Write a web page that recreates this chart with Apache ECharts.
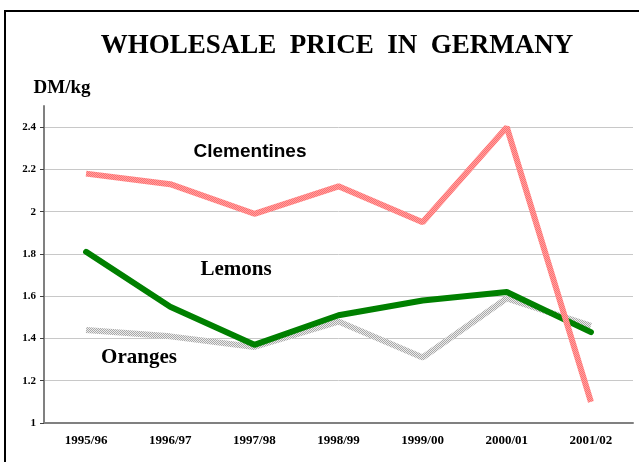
<!DOCTYPE html>
<html>
<head>
<meta charset="UTF-8">
<title>Wholesale price in Germany</title>
<style>
html, body { margin: 0; padding: 0; background: #fff; }
#main { width: 639px; height: 462px; }
</style>
</head>
<body>
<div id="main"></div>
<script src="https://cdn.jsdelivr.net/npm/echarts@6/dist/echarts.min.js"></script>
<script>
var seasons = ['1995/96', '1996/97', '1997/98', '1998/99', '1999/00', '2000/01', '2001/02'];
var clementines = [2.18, 2.13, 1.99, 2.12, 1.95, 2.40, 1.10];
var lemons = [1.81, 1.55, 1.37, 1.51, 1.58, 1.62, 1.43];
var oranges = [1.44, 1.41, 1.36, 1.48, 1.31, 1.59, 1.46];
var yTicks = [1, 1.2, 1.4, 1.6, 1.8, 2, 2.2, 2.4];

// small checkered pattern so the lines look hatched like the original
function hatch(c1, c2) {
	var cv = document.createElement('canvas');
	cv.width = 2; cv.height = 2;
	var ctx = cv.getContext('2d');
	ctx.fillStyle = c1; ctx.fillRect(0, 0, 2, 2);
	ctx.fillStyle = c2; ctx.fillRect(0, 0, 1, 1); ctx.fillRect(1, 1, 1, 1);
	return { image: cv, repeat: 'repeat' };
}

var serif = '"Liberation Serif", "DejaVu Serif", serif';
var sans = '"Liberation Sans", Arial, sans-serif';

function label(txt, x, y, font) {
	return {
		type: 'text', x: x, y: y, silent: true,
		style: { text: txt, font: font, fill: '#000', textAlign: 'center', textVerticalAlign: 'middle' }
	};
}

var myChart = echarts.init(document.getElementById('main'));
var option = {
	animation: false,
	backgroundColor: '#fff',
	grid: { left: 44, right: 6, top: 106, bottom: 39 },
	xAxis: {
		type: 'category',
		data: seasons,
		boundaryGap: true,
		axisLine: { lineStyle: { color: '#808080', width: 2 } },
		axisTick: { length: 4, lineStyle: { color: '#404040' } },
		axisLabel: { color: '#000', fontFamily: serif, fontWeight: 'bold', fontSize: 13, margin: 11 }
	},
	yAxis: {
		type: 'value',
		min: 1,
		max: 2.5,
		axisLine: { show: true, lineStyle: { color: '#808080', width: 2 } },
		axisTick: { show: true, length: 4, customValues: yTicks, lineStyle: { color: '#404040' } },
		axisLabel: {
			customValues: yTicks,
			color: '#000', fontFamily: serif, fontWeight: 'bold', fontSize: 11, margin: 8
		},
		splitLine: { show: true, lineStyle: { color: '#c8c8c8', width: 1 } }
	},
	series: [{
		name: 'Clementines',
		type: 'line',
		data: clementines,
		symbol: 'none',
		lineStyle: { width: 6, color: hatch('#ffa0a0', '#ff7070'), cap: 'butt' },
		z: 3
	}, {
		name: 'Oranges',
		type: 'line',
		data: oranges,
		symbol: 'none',
		lineStyle: { width: 6, color: hatch('#ececec', '#a8a8a8'), cap: 'butt' },
		z: 1
	}, {
		name: 'Lemons',
		type: 'line',
		data: lemons,
		symbol: 'none',
		lineStyle: { width: 6, color: '#008000', cap: 'round' },
		z: 2
	}],
	graphic: [{
		type: 'rect',
		shape: { x: 5, y: 11, width: 700, height: 500 },
		style: { fill: null, stroke: '#000', lineWidth: 2 },
		silent: true
	},
		label('WHOLESALE  PRICE  IN  GERMANY', 337, 46, 'bold 27px ' + serif),
		label('DM/kg', 62, 88, 'bold 19px ' + serif),
		label('Clementines', 250, 152, 'bold 19px ' + sans),
		label('Lemons', 236, 270, 'bold 21px ' + serif),
		label('Oranges', 139, 358, 'bold 21px ' + serif)
	]
};
myChart.setOption(option);
</script>
</body>
</html>
